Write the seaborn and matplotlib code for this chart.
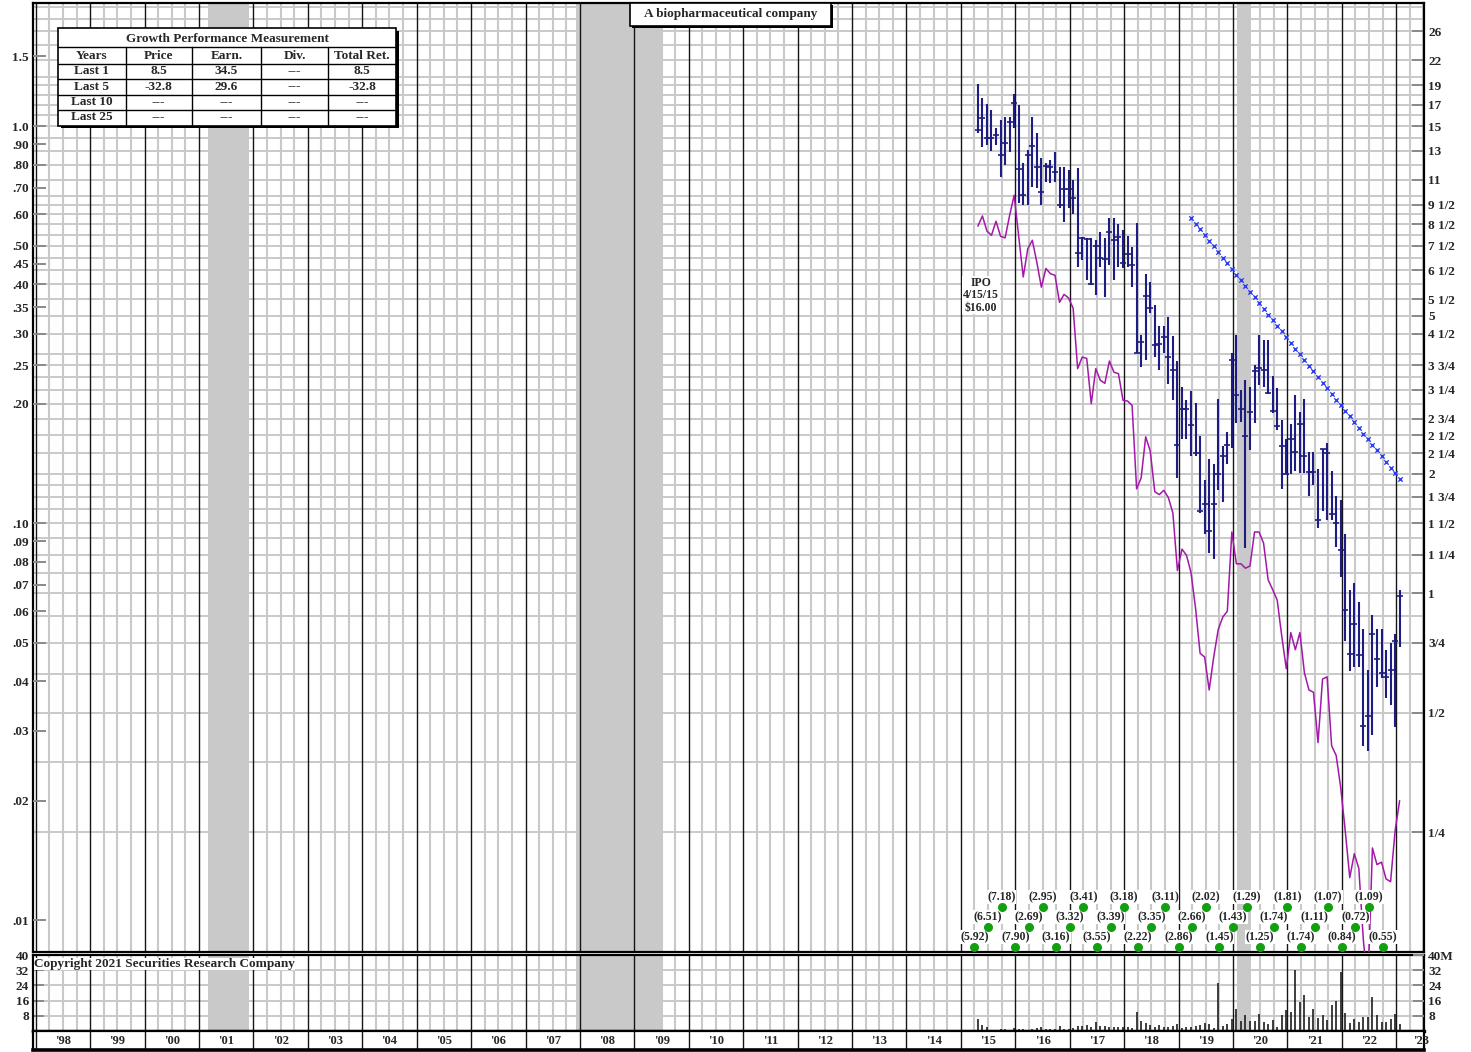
import numpy as np
import pandas as pd
import matplotlib
matplotlib.use("Agg")
import matplotlib.pyplot as plt
from matplotlib.patches import Rectangle
from matplotlib.lines import Line2D
from matplotlib.ticker import FixedLocator, NullFormatter, NullLocator
import seaborn as sns

sns.set_theme(style="white")
plt.rcParams["font.family"] = ["Liberation Serif", "DejaVu Serif"]
plt.rcParams["font.weight"] = "bold"
plt.rcParams["axes.linewidth"] = 1.6

# ---------------- data ----------------
title_text = "A biopharmaceutical company"
copyright_text = "Copyright 2021 Securities Research Company"
ipo_text = "IPO\n4/15/15\n$16.00"

first_month = "2015-04"
price_high = [19.15, 17.63, 17.03, 16.47, 14.81, 15.54, 15.85, 15.85, 18.05,
              16.96, 12.09, 13.06, 15.85, 14.39, 12.45, 12.09, 12.32, 12.93, 11.86, 11.86, 11.63,
              10.98, 11.74, 7.90, 7.83, 7.85, 7.75, 8.13, 7.83, 8.79, 8.79, 8.49, 8.21,
              7.93, 7.46, 8.54, 4.47, 6.35, 6.08, 5.32, 4.71, 4.71, 4.97, 4.45, 3.84,
              3.31, 3.06, 3.22, 3.01, 2.49, 1.93, 2.18, 2.12, 3.09, 2.34, 2.55, 4.02,
              4.47, 3.25, 3.45, 3.31, 3.75, 4.47, 4.34, 4.34, 3.52, 3.29, 2.73, 2.45,
              2.67, 3.16, 2.85, 3.08, 2.27, 2.27, 2.05, 2.30, 2.39, 2.03, 1.76, 1.72,
              1.41, 1.02, 1.06, 0.95, 0.81, 0.64, 0.88, 0.81, 0.81, 0.72, 0.75, 0.79,
              1.02]
price_low = [14.41, 13.31, 13.45, 12.99, 13.45, 11.19, 11.98, 12.93, 14.81,
             9.60, 9.50, 9.50, 10.56, 10.46, 9.50, 10.87, 10.77, 10.87, 9.35, 8.62, 9.31,
             8.99, 6.64, 6.90, 6.14, 5.97, 5.63, 6.64, 5.58, 6.70, 6.14, 6.64, 6.58,
             6.61, 5.91, 4.02, 3.72, 3.86, 5.07, 3.94, 3.65, 4.02, 3.37, 3.06, 1.95,
             2.45, 2.45, 2.21, 2.21, 1.59, 1.41, 1.26, 1.22, 1.82, 1.70, 2.12, 2.32,
             2.68, 2.70, 1.30, 2.29, 2.68, 3.34, 3.31, 3.18, 2.84, 2.57, 1.83, 1.99,
             2.00, 2.03, 2.01, 2.01, 1.76, 1.87, 1.46, 1.61, 1.53, 1.53, 1.31, 1.10,
             0.756, 0.636, 0.650, 0.650, 0.413, 0.400, 0.440, 0.579, 0.610, 0.543, 0.521, 0.459,
             0.730]
price_close = [14.67, 15.70, 14.03, 14.03, 14.25, 12.69, 13.58, 15.39, 17.12,
               11.68, 10.06, 12.69, 13.37, 11.86, 10.26, 11.93, 11.86, 11.47, 9.50, 10.40, 10.40,
               9.91, 7.18, 7.83, 7.78, 5.99, 7.48, 6.99, 6.93, 8.13, 7.75, 7.90, 6.80,
               7.15, 6.70, 4.02, 4.30, 5.60, 5.21, 4.21, 4.23, 4.42, 3.94, 3.65, 2.36,
               2.91, 2.91, 2.65, 2.25, 1.61, 1.68, 1.43, 1.68, 2.00, 2.21, 2.36, 3.86,
               3.15, 2.91, 2.49, 2.85, 3.62, 3.69, 3.65, 3.20, 2.88, 2.64, 2.34, 2.00,
               2.45, 2.27, 2.67, 2.22, 2.02, 2.02, 1.53, 2.30, 2.25, 1.58, 1.50, 1.28,
               0.907, 0.704, 0.837, 0.700, 0.462, 0.489, 0.789, 0.681, 0.630, 0.616, 0.641, 0.758,
               0.981]
# ratio line read on the left (earnings) scale
earn_line = [0.560, 0.594, 0.544, 0.531, 0.576, 0.528, 0.523, 0.596, 0.670,
             0.528, 0.417, 0.491, 0.516, 0.454, 0.393, 0.438, 0.425, 0.421, 0.360, 0.377, 0.369,
             0.348, 0.245, 0.262, 0.260, 0.200, 0.245, 0.229, 0.225, 0.256, 0.240, 0.238, 0.204,
             0.203, 0.198, 0.122, 0.130, 0.165, 0.152, 0.120, 0.118, 0.121, 0.116, 0.106, 0.076,
             0.086, 0.083, 0.075, 0.061, 0.047, 0.046, 0.038, 0.046, 0.054, 0.058, 0.060, 0.095,
             0.079, 0.079, 0.077, 0.078, 0.095, 0.095, 0.089, 0.072, 0.068, 0.064, 0.052, 0.043,
             0.053, 0.048, 0.053, 0.042, 0.038, 0.0375, 0.028, 0.0405, 0.041, 0.0275, 0.026, 0.0216,
             0.0168, 0.0128, 0.0147, 0.0135, 0.0089, 0.0068, 0.0152, 0.0138, 0.0140, 0.0127, 0.0125, 0.0168,
             0.0200]
# monthly volume, millions of shares
volume_m = [6.3, 3.2, 2.3, 0.7, 0.7, 1.2, 1.0, 0.7, 1.6,
            1.0, 0.8, 0.7, 1.0, 1.6, 2.3, 1.0, 1.0, 0.9, 2.5, 1.0, 1.2,
            1.5, 2.5, 2.5, 3.2, 1.9, 4.7, 2.5, 2.5, 1.9, 1.9, 1.9, 1.9,
            1.9, 1.4, 9.8, 5.3, 4.2, 3.2, 1.9, 3.2, 2.3, 1.9, 2.5, 3.9,
            1.6, 1.9, 1.9, 2.8, 3.2, 4.2, 3.5, 1.4, 25.1, 2.5, 3.5, 6.3,
            11.6, 5.3, 8.2, 5.3, 5.3, 8.9, 4.9, 3.5, 5.6, 2.3, 8.4, 11.1,
            10.2, 32.1, 15.1, 18.9, 7.5, 11.8, 7.0, 8.2, 5.6, 13.7, 15.8, 30.9,
            9.6, 4.4, 6.5, 4.6, 7.2, 7.5, 18.1, 8.4, 4.9, 4.7, 6.1, 8.8,
            3.9]

trend_first_month = "2019-03"
trend_vals = [8.80, 8.52, 8.24, 7.97, 7.72, 7.47, 7.23, 6.99, 6.77, 6.55, 6.34, 6.13,
              5.93, 5.74, 5.56, 5.38, 5.20, 5.03, 4.87, 4.71, 4.56, 4.41, 4.27, 4.13,
              4.00, 3.87, 3.74, 3.62, 3.50, 3.39, 3.28, 3.18, 3.07, 2.97, 2.88, 2.79,
              2.70, 2.61, 2.52, 2.44, 2.36, 2.29, 2.21, 2.14, 2.07, 2.01, 1.94]

eps_first_quarter = "2015Q1"
eps_vals = [-5.92, -6.51, -7.18, -7.90, -2.69, -2.95, -3.16, -3.32, -3.41, -3.55,
            -3.39, -3.18, -2.22, -3.35, -3.11, -2.86, -2.66, -2.02, -1.45, -1.43,
            -1.29, -1.25, -1.74, -1.81, -1.74, -1.11, -1.07, -0.84, -0.72, -1.09, -0.55]

recessions = [(2001.17, 2001.92), (2007.92, 2009.50), (2020.08, 2020.33)]

price_tick_vals = [26, 22, 19, 17, 15, 13, 11, 9.5, 8.5, 7.5, 6.5, 5.5, 5, 4.5, 3.75, 3.25,
                   2.75, 2.5, 2.25, 2, 1.75, 1.5, 1.25, 1, 0.75, 0.5, 0.25]
price_tick_labels = ["26", "22", "19", "17", "15", "13", "11", "9 1/2", "8 1/2", "7 1/2",
                     "6 1/2", "5 1/2", "5", "4 1/2", "3 3/4", "3 1/4", "2 3/4", "2 1/2",
                     "2 1/4", "2", "1 3/4", "1 1/2", "1 1/4", "1", "3/4", "1/2", "1/4"]
price_grid = [0.25, 0.375, 0.5, 0.625, 0.75, 0.875, 1, 1.125, 1.25, 1.375, 1.5, 1.625,
              1.75, 1.875, 2, 2.25, 2.5, 2.75, 3, 3.25, 3.5, 3.75, 4, 4.5, 5, 5.5, 6, 6.5,
              7, 7.5, 8, 8.5, 9, 9.5, 10, 11, 12, 13, 14, 15, 16, 17, 18, 19, 20, 22, 24,
              26, 28, 30]
eps_tick_vals = [1.5, 1.0, 0.9, 0.8, 0.7, 0.6, 0.5, 0.45, 0.4, 0.35, 0.3, 0.25, 0.2,
                 0.1, 0.09, 0.08, 0.07, 0.06, 0.05, 0.04, 0.03, 0.02, 0.01]
eps_tick_labels = ["1.5", "1.0", ".90", ".80", ".70", ".60", ".50", ".45", ".40", ".35",
                   ".30", ".25", ".20", ".10", ".09", ".08", ".07", ".06", ".05", ".04",
                   ".03", ".02", ".01"]
PE_RATIO = 15.0          # price scale / earnings scale
PRICE_LIM = (0.1247, 30.64)

vol_ticks = [8, 16, 24, 32, 40]
vol_left_labels = ["8", "16", "24", "32", "40"]
vol_right_labels = ["8", "16", "24", "32", "40M"]

years = list(range(1998, 2024))
year_labels = ["'%02d" % (y % 100) for y in years]

tbl_title = "Growth Performance Measurement"
tbl_header = ["Years", "Price", "Earn.", "Div.", "Total Ret."]
tbl_years = ["Last 1", "Last 5", "Last 10", "Last 25"]
tbl_price = ["8.5", "-32.8", "---", "---"]
tbl_earn = ["34.5", "29.6", "---", "---"]
tbl_div = ["---", "---", "---", "---"]
tbl_total = ["8.5", "-32.8", "---", "---"]

# ---------------- positions ----------------
months = pd.period_range(first_month, periods=len(price_high), freq="M")
month_x = np.asarray(months.year + (months.month - 0.25) / 12.0, dtype=float)
tmonths = pd.period_range(trend_first_month, periods=len(trend_vals), freq="M")
trend_x = np.asarray(tmonths.year + (tmonths.month - 0.25) / 12.0, dtype=float)
quarters = pd.period_range(eps_first_quarter, periods=len(eps_vals), freq="Q")
eps_x = np.asarray(quarters.year + quarters.quarter * 0.25, dtype=float)

W, H = 1471, 1052
fig = plt.figure(figsize=(W / 100, H / 100), dpi=100)
fig.patch.set_facecolor("white")


def fx(p):
    return p / W


def fy(p):
    return 1 - p / H


XMIN, XMAX = 1997.95, 2023.51
axP = fig.add_axes([fx(33), fy(952), 1391 / W, 949 / H])
axV = fig.add_axes([fx(33), fy(1031), 1391 / W, 76 / H])
axL = fig.add_axes([fx(33), fy(1050), 1391 / W, 19 / H])

quarter_lines = [y + q / 4 for y in years for q in (1, 2, 3) if y + q / 4 < XMAX]
GRID_GRAY = "#c9c9c9"
YEAR_LINE = "#151515"


def background(ax):
    ax.set_facecolor("white")
    for s, e in recessions:
        ax.axvspan(s, e, color=GRID_GRAY, lw=0, zorder=0.2)
    ax.set_xticks([])
    ax.set_xticks(quarter_lines, minor=True)
    ax.xaxis.grid(True, which="minor", color=GRID_GRAY, lw=1.5)
    ax.tick_params(axis="x", which="both", length=0, labelbottom=False)
    ax.vlines(years, 0, 1, transform=ax.get_xaxis_transform(), colors=YEAR_LINE,
              lw=1.0, zorder=0.7)
    ax.set_axisbelow(True)
    ax.set_xlim(XMIN, XMAX)
    for sp in ax.spines.values():
        sp.set_color("black")
        sp.set_linewidth(1.6)


# ---------------- price panel ----------------
background(axP)
axP.set_yscale("log", base=2)
axP.vlines(month_x, price_low, price_high, colors="#1c1c82", lw=1.5, zorder=3)
axP.plot(month_x, price_close, ls="none", marker="_", ms=4, mew=1.2,
         color="#1c1c82", zorder=4)
sns.scatterplot(x=trend_x, y=trend_vals, ax=axP, marker="x", color="#2a3cf5",
                s=10, linewidth=1.0, zorder=5, legend=False)
axP.set_ylim(*PRICE_LIM)
axP.set_xlabel("")
axP.set_ylabel("")

# earnings scale (left) on a twin axis
axE = axP.twinx()
axE.set_yscale("log")
sns.lineplot(x=month_x, y=earn_line, ax=axE, color="#a318a8", lw=1.1,
             zorder=3, legend=False)
axE.set_ylim(PRICE_LIM[0] / PE_RATIO, PRICE_LIM[1] / PE_RATIO)
axE.set_xlim(XMIN, XMAX)

# price axis labels on the right
axP.yaxis.set_ticks_position("right")
axP.set_yticks(price_tick_vals, labels=price_tick_labels)
axP.yaxis.set_minor_locator(FixedLocator(price_grid))
axP.yaxis.set_minor_formatter(NullFormatter())
axP.yaxis.grid(True, which="both", color=GRID_GRAY, lw=1.4)
axP.tick_params(axis="y", which="major", direction="in", length=9, width=1.4,
                color="#8a8a8a", labelsize=9.5, pad=3, right=True, left=False,
                labelright=True, labelleft=False)
axP.tick_params(axis="y", which="minor", length=0, left=False, right=False)

# earnings axis labels on the left
axE.yaxis.set_ticks_position("left")
axE.set_yticks(eps_tick_vals, labels=eps_tick_labels)
axE.yaxis.set_minor_locator(NullLocator())
axE.tick_params(axis="y", which="major", direction="in", length=9, width=1.4,
                color="#8a8a8a", labelsize=9.5, pad=3, left=True, right=False,
                labelleft=True, labelright=False)
axE.tick_params(axis="x", which="both", length=0, labelbottom=False)
axE.set_xlabel("")
axE.set_ylabel("")
for sp in axE.spines.values():
    sp.set_visible(False)

# quarterly EPS labels with green dots, staggered in three rows
dot_rows = [0.0053, 0.0263, 0.0474]
lab_rows = [0.0158, 0.0369, 0.0580]
tr = axE.get_xaxis_transform()
for i, (xq, v) in enumerate(zip(eps_x, eps_vals)):
    r = i % 3
    axE.plot([xq], [dot_rows[r]], marker="o", ms=5.5, color="#12a012", ls="none",
             transform=tr, zorder=7, clip_on=False)
    txt = "(%.2f)" % abs(v) if v < 0 else "%.2f" % v
    axE.text(xq, lab_rows[r], txt, transform=tr, ha="center", va="center",
             fontsize=8.5, fontweight="bold", zorder=6,
             bbox=dict(facecolor="white", edgecolor="none", pad=0.4))

axE.text(2015.37, 0.375, ipo_text, ha="center", va="center", fontsize=8.5,
         fontweight="bold", linespacing=1.05, zorder=6,
         bbox=dict(facecolor="white", edgecolor="none", pad=0.5))

# ---------------- volume panel ----------------
background(axV)
axV.vlines(month_x, 0, volume_m, colors="#1e1e1e", lw=1.2, zorder=3)
axV.set_ylim(0, 40)
axV.set_xlim(XMIN, XMAX)
axV.set_yticks(vol_ticks, labels=vol_left_labels)
axV.yaxis.grid(True, which="major", color=GRID_GRAY, lw=1.4)
axV.tick_params(axis="y", direction="in", length=8, width=1.4, color="#8a8a8a",
                labelsize=9.5, pad=3)
axV.spines["bottom"].set_linewidth(2.4)
axV.text(0.0008, (1031 - 964) / 76, copyright_text, transform=axV.transAxes,
         ha="left", va="center", fontsize=9.5, fontweight="bold", zorder=6,
         bbox=dict(facecolor="white", edgecolor="none", pad=0.3))
axV2 = axV.twinx()
axV2.set_ylim(0, 40)
axV2.set_xlim(XMIN, XMAX)
axV2.set_yticks(vol_ticks, labels=vol_right_labels)
axV2.tick_params(axis="y", direction="in", length=8, width=1.4, color="#8a8a8a",
                 labelsize=9.5, pad=3)
for sp in axV2.spines.values():
    sp.set_visible(False)

# ---------------- year label strip ----------------
axL.set_xlim(XMIN, XMAX)
axL.set_ylim(0, 1)
axL.set_xticks([])
axL.set_yticks([])
axL.vlines(years, 0, 1, colors=YEAR_LINE, lw=1.0)
for y, lab in zip(years, year_labels):
    axL.text(min(y + 0.5, XMAX - 0.05), 0.5, lab, ha="center", va="center",
             fontsize=9, fontweight="bold", clip_on=False)
for sp in axL.spines.values():
    sp.set_color("black")
    sp.set_linewidth(1.6)
axL.spines["bottom"].set_linewidth(2.6)

# ---------------- title box ----------------
fig.add_artist(Rectangle((fx(632), fy(27.5)), 201 / W, 22.5 / H,
                         transform=fig.transFigure, facecolor="black", edgecolor="none",
                         zorder=8))
fig.add_artist(Rectangle((fx(630), fy(25.5)), 201 / W, 22.5 / H,
                         transform=fig.transFigure, facecolor="white", edgecolor="black",
                         lw=1.2, zorder=8))
fig.text(fx(730.5), fy(14.5), title_text, ha="center", va="center", fontsize=9.5,
         fontweight="bold", zorder=9)

# ---------------- performance table ----------------
TX0, TX1, TY0, TY1 = 58, 396, 28, 125.5
fig.add_artist(Rectangle((fx(TX0 + 2.5), fy(TY1 + 2.5)), (TX1 - TX0) / W, (TY1 - TY0) / H,
                         transform=fig.transFigure, facecolor="black", edgecolor="none",
                         zorder=8))
fig.add_artist(Rectangle((fx(TX0), fy(TY1)), (TX1 - TX0) / W, (TY1 - TY0) / H,
                         transform=fig.transFigure, facecolor="white", edgecolor="black",
                         lw=1.2, zorder=8))
row_lines = [47, 63.5, 79, 94.5, 110]
col_lines = [125.5, 192, 261, 328]
for yy in row_lines:
    fig.add_artist(Line2D([fx(TX0), fx(TX1)], [fy(yy), fy(yy)], transform=fig.transFigure,
                          color="black", lw=1.0, zorder=9))
for xx in col_lines:
    fig.add_artist(Line2D([fx(xx), fx(xx)], [fy(47), fy(TY1)], transform=fig.transFigure,
                          color="black", lw=1.0, zorder=9))
col_centers = [91.5, 158.5, 226.5, 294.5, 362]
fig.text(fx((TX0 + TX1) / 2), fy(38.5), tbl_title, ha="center", va="center",
         fontsize=9.5, fontweight="bold", zorder=10)
for cx, h in zip(col_centers, tbl_header):
    fig.text(fx(cx), fy(56), h, ha="center", va="center", fontsize=9.5,
             fontweight="bold", zorder=10)
row_centers = [71, 86.5, 102, 117.5]
columns = [tbl_years, tbl_price, tbl_earn, tbl_div, tbl_total]
for cx, col in zip(col_centers, columns):
    for ry, val in zip(row_centers, col):
        fig.text(fx(cx), fy(ry), val, ha="center", va="center", fontsize=9.5,
                 fontweight="bold", zorder=10)

fig.savefig("out.png", dpi=100, facecolor="white")
